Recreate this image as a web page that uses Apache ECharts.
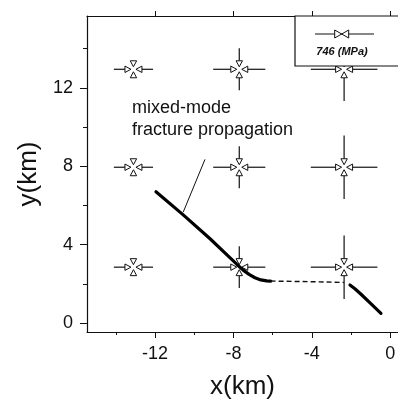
<!DOCTYPE html>
<html>
<head>
<meta charset="utf-8">
<script src="https://cdn.jsdelivr.net/npm/echarts@6.0.0/dist/echarts.min.js"></script>
<style>
html, body { margin: 0; padding: 0; background: #fff; }
#chart { width: 398px; height: 404px; }
</style>
</head>
<body>
<div id="chart"></div>
<script>
// fracture path, solid part up to the kink
const pathX1 = [-11.95, -10.56, -9.19, -8.3, -7.83, -7.5, -7.2, -6.9, -6.6, -6.3, -6.1];
const pathY1 = [6.70, 5.52, 4.30, 3.45, 3.0, 2.7, 2.48, 2.31, 2.2, 2.15, 2.14];
// dashed part
const dashX = [-6.1, -4.2, -2.35];
const dashY = [2.14, 2.11, 2.07];
// last solid part
const pathX2 = [-2.05, -1.8, -1.5, -1.0, -0.47];
const pathY2 = [1.94, 1.75, 1.48, 1.0, 0.49];
// leader line of the label
const leaderX = [-9.45, -10.56];
const leaderY = [8.35, 5.66];

// stress symbols: columns, rows and half lengths of arrows (km)
const stressX = [-13.1, -7.7, -2.35];
const stressY = [12.95, 7.95, 2.85];
const stressH = [1.0, 1.33, 1.7];
const stressV = [0.4, 1.07, 1.62];

const xMajor = [-12, -8, -4, 0];
const xMinor = [-14, -10, -6, -2];
const yMajor = [0, 4, 8, 12];
const yMinor = [2, 6, 10, 14];

const font = '"Liberation Sans", Arial, Helvetica, sans-serif';

function zip(xs, ys) {
    let out = [];
    for (let i = 0; i < xs.length; i++) out.push([xs[i], ys[i]]);
    return out;
}

let stressData = [];
for (let i = 0; i < stressX.length; i++) {
    for (let j = 0; j < stressY.length; j++) {
        stressData.push([stressX[i], stressY[j], stressH[i], stressV[i]]);
    }
}

function renderStress(params, api) {
    const c = api.coord([api.value(0), api.value(1)]);
    const s = api.size([api.value(2), api.value(3)]);
    const tip = 2.5, base = 8.5, half = 3.2;
    let children = [];
    [[1, 0], [-1, 0], [0, 1], [0, -1]].forEach(function (d) {
        const dx = d[0], dy = d[1];
        const arm = dx ? s[0] : s[1];
        if (arm > base) {
            children.push({
                type: 'line',
                shape: { x1: c[0] + dx * arm, y1: c[1] + dy * arm, x2: c[0] + dx * base, y2: c[1] + dy * base },
                style: { stroke: '#111', lineWidth: 1.2 }
            });
        }
        const px = -dy, py = dx;
        children.push({
            type: 'polygon',
            shape: {
                points: [
                    [c[0] + dx * tip, c[1] + dy * tip],
                    [c[0] + dx * base + px * half, c[1] + dy * base + py * half],
                    [c[0] + dx * base - px * half, c[1] + dy * base - py * half]
                ]
            },
            style: { fill: '#fff', stroke: '#111', lineWidth: 1 }
        });
    });
    return { type: 'group', children: children };
}

const xRange = [-15.47, 0.40];
const yRange = [-0.46, 15.67];

const chart = echarts.init(document.getElementById('chart'));
chart.setOption({
    animation: false,
    grid: [
        { left: 87, top: 16, right: 0, bottom: 72, outerBoundsMode: 'none' },
        { left: 87, top: 16, right: 0, bottom: 72, outerBoundsMode: 'none' }
    ],
    xAxis: [
        {
            type: 'value', gridIndex: 0, position: 'bottom', min: xRange[0], max: xRange[1],
            axisLine: { show: true, onZero: false, lineStyle: { color: '#111', width: 1.2 } },
            axisTick: { show: true, length: 6, customValues: xMajor, lineStyle: { color: '#111' } },
            axisLabel: { customValues: xMajor, color: '#111', fontSize: 18, fontFamily: font, margin: 13 },
            splitLine: { show: false },
            name: 'x(km)', nameLocation: 'middle', nameGap: 42,
            nameTextStyle: { color: '#111', fontSize: 26, fontFamily: font }
        },
        {
            type: 'value', gridIndex: 0, position: 'top', min: xRange[0], max: xRange[1],
            axisLine: { show: true, onZero: false, lineStyle: { color: '#111', width: 1.2 } },
            axisTick: { show: true, length: 5, customValues: xMajor, lineStyle: { color: '#111' } },
            axisLabel: { show: false },
            splitLine: { show: false }
        },
        {
            type: 'value', gridIndex: 1, position: 'bottom', min: xRange[0], max: xRange[1],
            axisLine: { show: false, onZero: false },
            axisTick: { show: true, length: 3, customValues: xMinor, lineStyle: { color: '#111' } },
            axisLabel: { show: false },
            splitLine: { show: false }
        }
    ],
    yAxis: [
        {
            type: 'value', gridIndex: 0, position: 'left', min: yRange[0], max: yRange[1],
            axisLine: { show: true, onZero: false, lineStyle: { color: '#111', width: 1.2 } },
            axisTick: { show: true, length: 7, customValues: yMajor, lineStyle: { color: '#111' } },
            axisLabel: { customValues: yMajor, color: '#111', fontSize: 18, fontFamily: font, margin: 14 },
            splitLine: { show: false },
            name: 'y(km)', nameLocation: 'middle', nameGap: 42,
            nameTextStyle: { color: '#111', fontSize: 26, fontFamily: font }
        },
        {
            type: 'value', gridIndex: 1, position: 'left', min: yRange[0], max: yRange[1],
            axisLine: { show: false, onZero: false },
            axisTick: { show: true, length: 4, customValues: yMinor, lineStyle: { color: '#111' } },
            axisLabel: { show: false },
            splitLine: { show: false }
        }
    ],
    series: [
        {
            type: 'custom', xAxisIndex: 0, yAxisIndex: 0,
            renderItem: renderStress, data: stressData, z: 2
        },
        {
            type: 'line', xAxisIndex: 0, yAxisIndex: 0, data: zip(pathX1, pathY1),
            smooth: false, showSymbol: false,
            lineStyle: { color: '#000', width: 3.2, join: 'round', cap: 'round' }, z: 3
        },
        {
            type: 'line', xAxisIndex: 0, yAxisIndex: 0, data: zip(dashX, dashY),
            smooth: false, showSymbol: false,
            lineStyle: { color: '#111', width: 1.4, type: [5, 3] }, z: 3
        },
        {
            type: 'line', xAxisIndex: 0, yAxisIndex: 0, data: zip(pathX2, pathY2),
            smooth: false, showSymbol: false,
            lineStyle: { color: '#000', width: 3.2, join: 'round', cap: 'round' }, z: 3
        },
        {
            type: 'line', xAxisIndex: 0, yAxisIndex: 0, data: zip(leaderX, leaderY),
            showSymbol: false, lineStyle: { color: '#111', width: 1 }, z: 3
        }
    ],
    graphic: [
        {
            type: 'text', left: 132, top: 97, z: 10,
            style: {
                text: 'mixed-mode\nfracture propagation', fill: '#111',
                font: '18px ' + font, lineHeight: 22
            }
        },
        {
            type: 'rect', z: 20,
            shape: { x: 295, y: 16, width: 120, height: 50 },
            style: { fill: '#fff', stroke: '#111', lineWidth: 1.2 }
        },
        {
            type: 'line', z: 21,
            shape: { x1: 315, y1: 34, x2: 374, y2: 34 },
            style: { stroke: '#111', lineWidth: 1.2 }
        },
        {
            type: 'polygon', z: 22,
            shape: { points: [[341.7, 34], [334.7, 30], [334.7, 38]] },
            style: { fill: '#fff', stroke: '#111', lineWidth: 1 }
        },
        {
            type: 'polygon', z: 22,
            shape: { points: [[341.7, 34], [348.7, 30], [348.7, 38]] },
            style: { fill: '#fff', stroke: '#111', lineWidth: 1 }
        },
        {
            type: 'text', x: 342, y: 52, z: 22,
            style: {
                text: '746 (MPa)', fill: '#111', align: 'center', verticalAlign: 'middle',
                font: 'italic bold 11px ' + font
            }
        }
    ]
});
</script>
</body>
</html>
